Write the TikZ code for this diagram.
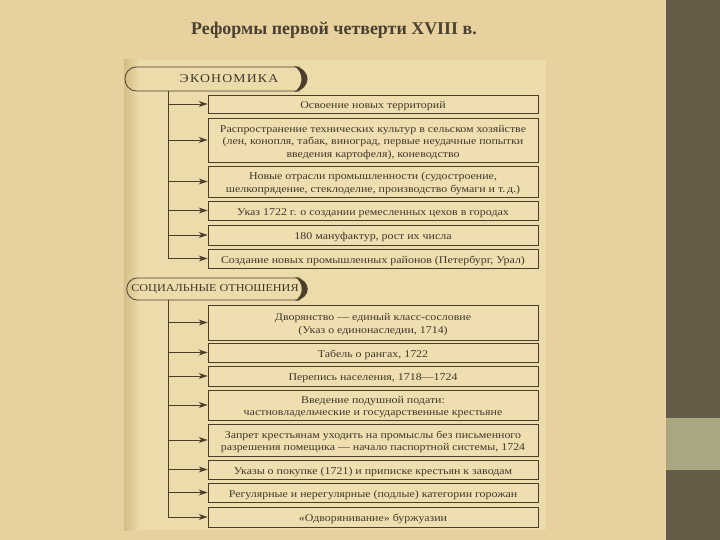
\documentclass[tikz,border=0pt]{standalone}
\usepackage{fontspec}
\setmainfont{Liberation Serif}[FakeStretch=1.15]
\newfontfamily\titlefont{Liberation Serif}
\usetikzlibrary{arrows.meta}
\definecolor{pagebg}{HTML}{E7D29F}
\definecolor{scanbg}{HTML}{EDDCAB}
\definecolor{scanedge}{HTML}{D4BC86}
\definecolor{boxfill}{HTML}{EFDFB0}
\definecolor{linec}{HTML}{4B3F2C}
\definecolor{textc}{HTML}{3F382C}
\definecolor{titlec}{HTML}{4A4030}
\definecolor{panel}{HTML}{655C48}
\definecolor{olive}{HTML}{A9A680}
\newcommand\bxt[1]{\raisebox{-2.2bp}[\height][\depth]{\begin{tabular}{@{}c@{}}#1\end{tabular}}}
\tikzset{
  box/.style={draw=linec, line width=0.9pt, fill=boxfill, minimum width=330bp,
    inner sep=0pt, text=textc, font=\fontsize{10.4}{12.5}\selectfont},
  arr/.style={draw=linec, line width=0.8pt, -{Stealth[length=9bp,width=6bp]}},
  trunk/.style={draw=linec, line width=0.8pt},
  pill/.style={draw=linec, line width=0.8pt},
  crescent/.style={fill=linec},
  headtext/.style={text=textc, inner sep=0pt}
}
\begin{document}
\begin{tikzpicture}[x=1bp,y=-1bp]
\useasboundingbox (0,0) rectangle (720,540);
% backgrounds
\fill[pagebg] (0,0) rectangle (720,540);
\fill[scanbg] (124,60) rectangle (546,530);
\shade[left color=scanedge, right color=scanbg] (124,60) rectangle (140,530);
\fill[panel] (666,0) rectangle (720,540);
\fill[olive] (666,418) rectangle (720,470);

% title
\node[text=titlec, font=\titlefont\bfseries\fontsize{18}{21}\selectfont] (title) at (334,30) {Реформы первой четверти XVIII в.};

% economy header
\draw[pill] (300,67) -- (137,67) .. controls (121,67) and (121,91) .. (137,91) -- (300,91);
\fill[crescent] (294,66) .. controls (312,69) and (312,89) .. (294,92) .. controls (304,86) and (304,72) .. cycle;
\node[headtext, font=\fontsize{12}{13}\selectfont\addfontfeatures{LetterSpace=10}] (hE) at (229,79) {ЭКОНОМИКА};

% economy boxes
\node[box, minimum height=18bp] (e1) at (373,104) {\bxt{Освоение новых территорий}};
\node[box, minimum height=44bp] (e2) at (373,140) {\bxt{Распространение технических культур в сельском хозяйстве\\(лен, конопля, табак, виноград, первые неудачные попытки\\введения картофеля), коневодство}};
\node[box, minimum height=31bp] (e3) at (373,181.5) {\bxt{Новые отрасли промышленности (судостроение,\\шелкопрядение, стеклоделие, производство бумаги и т.\,д.)}};
\node[box, minimum height=19bp] (e4) at (373,210.5) {\bxt{Указ 1722 г. о создании ремесленных цехов в городах}};
\node[box, minimum height=20bp] (e5) at (373,235) {\bxt{180 мануфактур, рост их числа}};
\node[box, minimum height=19bp] (e6) at (373,258.5) {\bxt{Создание новых промышленных районов (Петербург, Урал)}};

\coordinate (eTop) at (168,91);
\draw[trunk] (eTop) -- (eTop |- e6.west);
\foreach \n in {e1,e2,e3,e4,e5,e6} \draw[arr] (eTop |- \n.west) -- (\n.west);

% social header
\draw[pill] (300,278) -- (138,278) .. controls (123,278) and (123,300) .. (138,300) -- (300,300);
\fill[crescent] (295,277) .. controls (312,280) and (312,298) .. (295,301) .. controls (304,295) and (304,283) .. cycle;
\node[headtext, font=\fontsize{10.6}{12}\selectfont] (hS) at (215,289) {СОЦИАЛЬНЫЕ ОТНОШЕНИЯ};

% social boxes
\node[box, minimum height=35bp] (s1) at (373,322.5) {\bxt{Дворянство — единый класс-сословие\\(Указ о единонаследии, 1714)}};
\node[box, minimum height=19bp] (s2) at (373,352.5) {\bxt{Табель о рангах, 1722}};
\node[box, minimum height=20bp] (s3) at (373,376) {\bxt{Перепись населения, 1718—1724}};
\node[box, minimum height=30bp] (s4) at (373,405) {\bxt{Введение подушной подати:\\частновладельческие и государственные крестьяне}};
\node[box, minimum height=32bp] (s5) at (373,440) {\bxt{Запрет крестьянам уходить на промыслы без письменного\\разрешения помещика — начало паспортной системы, 1724}};
\node[box, minimum height=19bp] (s6) at (373,469.5) {\bxt{Указы о покупке (1721) и приписке крестьян к заводам}};
\node[box, minimum height=19bp] (s7) at (373,492.5) {\bxt{Регулярные и нерегулярные (подлые) категории горожан}};
\node[box, minimum height=20bp] (s8) at (373,517) {\bxt{«Одворянивание» буржуазии}};

\coordinate (sTop) at (168,300);
\draw[trunk] (sTop) -- (sTop |- s8.west);
\foreach \n in {s1,s2,s3,s4,s5,s6,s7,s8} \draw[arr] (sTop |- \n.west) -- (\n.west);
\end{tikzpicture}
\end{document}
